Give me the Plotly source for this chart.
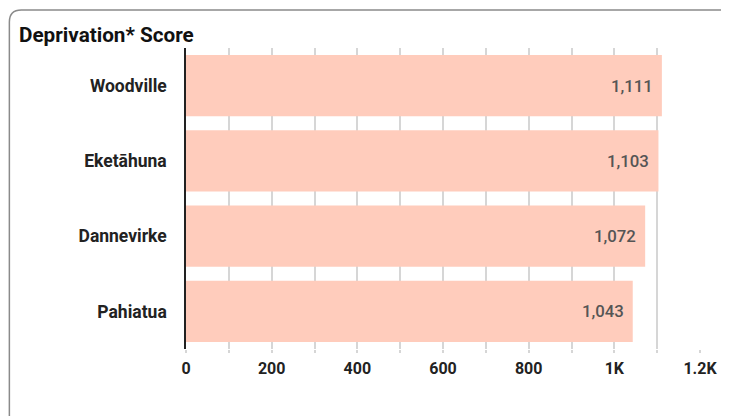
import plotly.graph_objects as go

categories = ["Woodville", "Eketāhuna", "Dannevirke", "Pahiatua"]
scores = [1111, 1103, 1072, 1043]
tick_values = [0, 200, 400, 600, 800, 1000, 1200]
tick_labels = ["0", "200", "400", "600", "800", "1K", "1.2K"]
title_text = "Deprivation* Score"

# page has an 8px body margin; work in page coordinates, convert to figure coords
OFF = 8
W, H = 729 - OFF, 416 - OFF
ML = 186 - OFF
PR = 704 - OFF
PT = 48 - OFF
PB = 349 - OFF
MR = W - PR
MB = H - PB
pw, ph = PR - ML, PB - PT

def px(x):
    return (x - OFF - ML) / pw

def py(y):
    return (PB - (y - OFF)) / ph

fig = go.Figure()
fig.add_trace(go.Bar(
    y=categories, x=scores, orientation="h",
    marker=dict(color="#ffccbc", line=dict(width=0)),
    hoverinfo="skip",
))

for c, v in zip(categories, scores):
    fig.add_annotation(x=v, y=c, text=f"{v:,}", showarrow=False,
                       xanchor="right", xshift=-7,
                       font=dict(family="Roboto", size=16.8, color="#555555", weight=500))

# rounded card border
r = 12
path = (f"M {px(8)},{py(440)} L {px(8)},{py(10 + r)} "
        f"Q {px(8)},{py(10)} {px(8 + r)},{py(10)} L {px(760)},{py(10)}")
fig.add_shape(type="path", path=path, xref="paper", yref="paper",
              line=dict(color="#8a8a8a", width=1.5), layer="below")

fig.add_annotation(text=title_text, xref="paper", yref="paper",
                   x=px(16), y=py(35), xanchor="left", yanchor="middle",
                   showarrow=False,
                   font=dict(family="Roboto", size=20.7, color="#111111", weight="bold"))

fig.update_layout(
    width=W, height=H,
    margin=dict(l=ML, r=MR, t=PT, b=MB),
    paper_bgcolor="white", plot_bgcolor="white",
    showlegend=False, bargap=0.187,
    font=dict(family="Roboto"),
)
fig.update_xaxes(
    range=[0, 1200], tickvals=tick_values, ticktext=tick_labels,
    showgrid=True, gridcolor="#d6d6d6", gridwidth=2,
    ticks="outside", ticklen=3, tickcolor="#d6d6d6", tickwidth=2,
    minor=dict(dtick=100, showgrid=True, gridcolor="#d6d6d6", gridwidth=2,
               ticks="outside", ticklen=3, tickcolor="#d6d6d6", tickwidth=2),
    zeroline=False, showline=False, ticklabelstandoff=2,
    tickfont=dict(family="Roboto", size=16, color="#222222", weight="bold"),
    fixedrange=True,
)
fig.update_yaxes(
    categoryorder="array", categoryarray=categories[::-1],
    showline=True, linecolor="#222222", linewidth=1.5,
    showgrid=False, ticks="", ticklabelstandoff=14,
    tickfont=dict(family="Roboto", size=17.5, color="#222222", weight="bold"),
    fixedrange=True,
)

fig.write_html("out.html")
